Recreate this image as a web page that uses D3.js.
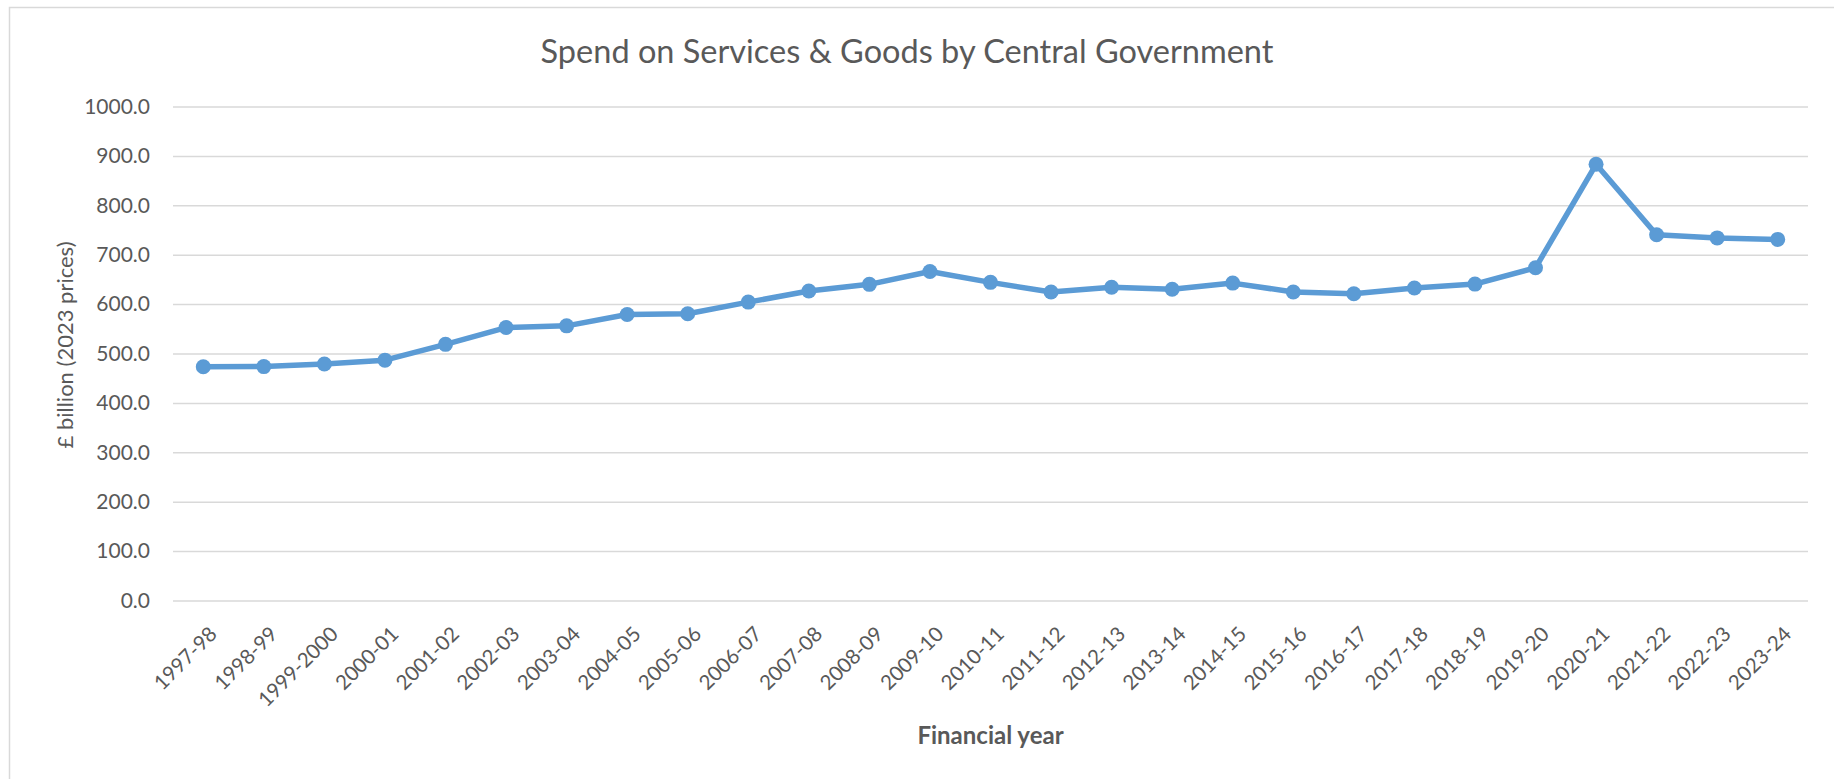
<!DOCTYPE html>
<html>
<head>
<meta charset="utf-8">
<script src="https://cdn.jsdelivr.net/npm/d3@7/dist/d3.min.js"></script>
<style>
  html, body { margin: 0; padding: 0; background: #fff; }
  svg { display: block; }
  text { font-family: Lato, "Open Sans", sans-serif; fill: #595959; }
</style>
</head>
<body>
<svg id="chart" width="1834" height="779"></svg>
<script>
// Financial years on the category axis
const years = [
  "1997-98", "1998-99", "1999-2000", "2000-01", "2001-02", "2002-03", "2003-04",
  "2004-05", "2005-06", "2006-07", "2007-08", "2008-09", "2009-10", "2010-11",
  "2011-12", "2012-13", "2013-14", "2014-15", "2015-16", "2016-17", "2017-18",
  "2018-19", "2019-20", "2020-21", "2021-22", "2022-23", "2023-24"
];

// Spend on services & goods, £ billion at 2023 prices
const spend = [
  473.3, 473.5, 478.7, 486.5, 518.5, 552.5, 556.0,
  579.0, 580.5, 604.0, 626.5, 640.0, 666.0, 644.0,
  624.5, 634.0, 630.0, 642.5, 624.5, 621.0, 632.5,
  640.5, 673.5, 883.0, 740.5, 734.0, 731.0
];

// Value-axis ticks
const yTicks = [0, 100, 200, 300, 400, 500, 600, 700, 800, 900, 1000];

const titleText = "Spend on Services & Goods by Central Government";
const yTitleText = "£ billion (2023 prices)";
const xTitleText = "Financial year";

const svg = d3.select("#chart");
const plot = { left: 173, right: 1808, top: 106.5, bottom: 600.5 };
const labelFont = "Lato, 'Open Sans', sans-serif";

// Chart-area border (runs off the right and bottom edges)
svg.append("rect")
  .attr("x", 9.5).attr("y", 7.5)
  .attr("width", 1900).attr("height", 900)
  .attr("fill", "none")
  .attr("stroke", "#d9d9d9")
  .attr("stroke-width", 1.5);

const x = d3.scalePoint()
  .domain(years)
  .range([plot.left, plot.right])
  .padding(0.5);

const y = d3.scaleLinear()
  .domain([0, 1000])
  .range([plot.bottom, plot.top]);

// Value axis with horizontal gridlines
const yAxis = svg.append("g")
  .attr("transform", `translate(${plot.left},0)`)
  .call(d3.axisLeft(y)
    .tickValues(yTicks)
    .tickFormat(d3.format(".1f"))
    .tickSize(-(plot.right - plot.left))
    .tickPadding(23));
yAxis.select(".domain").remove();
yAxis.selectAll(".tick line")
  .attr("stroke", "#d9d9d9")
  .attr("stroke-width", 1.5);
yAxis.selectAll(".tick text")
  .attr("font-size", 21)
  .attr("fill", "#595959")
  .style("font-family", labelFont);

// Category labels, rotated
const xAxis = svg.append("g")
  .attr("transform", `translate(0,${plot.bottom})`)
  .call(d3.axisBottom(x).tickSize(0).tickPadding(0));
xAxis.select(".domain").remove();
xAxis.selectAll(".tick text")
  .attr("font-size", 20.5)
  .attr("fill", "#595959")
  .style("font-family", labelFont)
  .attr("text-anchor", "end")
  .attr("x", 0).attr("y", 0).attr("dy", "0.72em")
  .attr("transform", "translate(4,24.5) rotate(-45)");

// Series line and markers
const line = d3.line()
  .x((d, i) => x(years[i]))
  .y(d => y(d));

svg.append("path")
  .datum(spend)
  .attr("d", line)
  .attr("fill", "none")
  .attr("stroke", "#5b9bd5")
  .attr("stroke-width", 5.5)
  .attr("stroke-linejoin", "round");

svg.append("g")
  .selectAll("circle")
  .data(spend)
  .join("circle")
  .attr("cx", (d, i) => x(years[i]))
  .attr("cy", d => y(d))
  .attr("r", 7.5)
  .attr("fill", "#5b9bd5");

// Titles
svg.append("text")
  .attr("x", 907).attr("y", 63)
  .attr("text-anchor", "middle")
  .attr("font-size", 32.5)
  .attr("font-weight", 400)
  .text(titleText);

svg.append("text")
  .attr("transform", `translate(73,345) rotate(-90)`)
  .attr("text-anchor", "middle")
  .attr("font-size", 22)
  .text(yTitleText);

svg.append("text")
  .attr("x", (plot.left + plot.right) / 2).attr("y", 744)
  .attr("text-anchor", "middle")
  .attr("font-size", 24)
  .attr("font-weight", 700)
  .text(xTitleText);
</script>
</body>
</html>
